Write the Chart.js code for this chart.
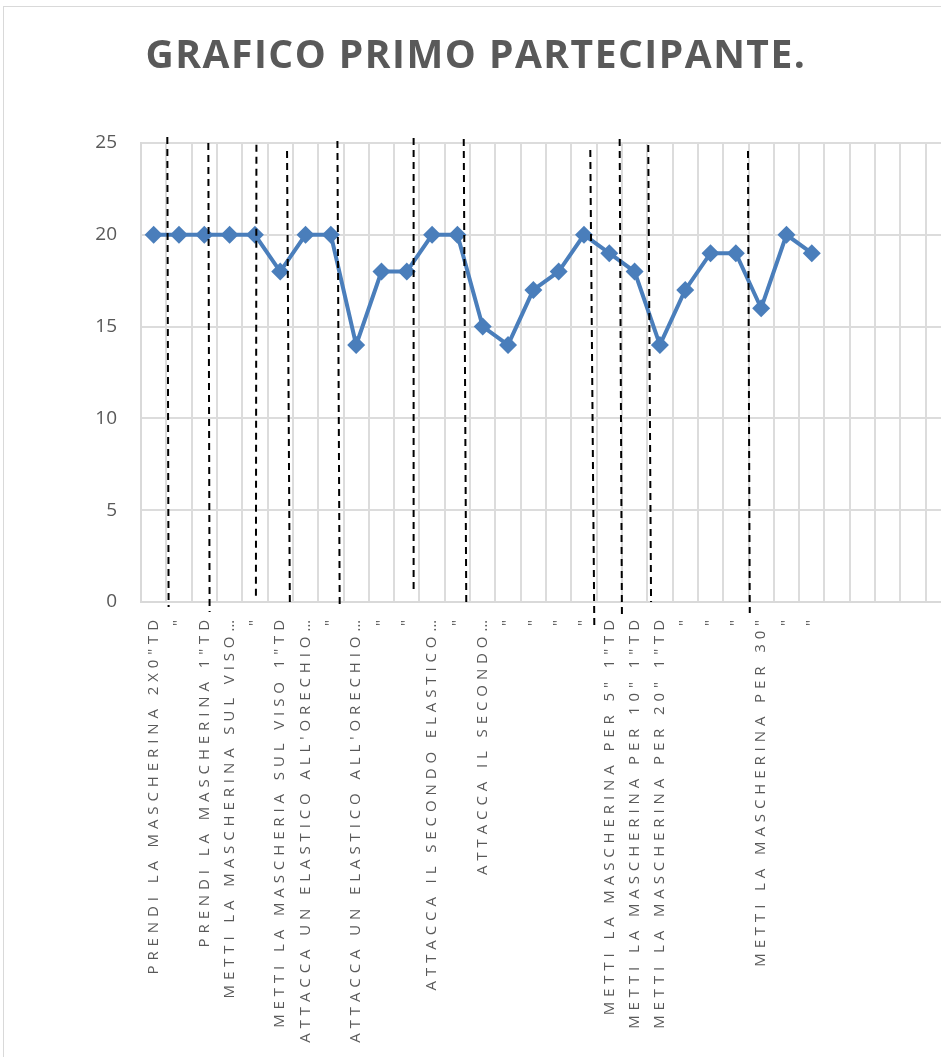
<!DOCTYPE html>
<html>
<head>
<meta charset="utf-8">
<script src="https://cdn.jsdelivr.net/npm/chart.js@4"></script>
<style>
  html, body { margin: 0; padding: 0; background: #fff; overflow: hidden; }
  canvas { display: block; }
</style>
</head>
<body>
<canvas id="chart" width="960" height="1057"></canvas>
<script>
const title = "GRAFICO PRIMO PARTECIPANTE.";

const categories = [
  'PRENDI LA MASCHERINA 2X0"TD', '"', 'PRENDI LA MASCHERINA 1"TD',
  'METTI LA MASCHERINA SUL VISO…', '"', 'METTI LA MASCHERIA SUL VISO 1"TD',
  "ATTACCA UN ELASTICO ALL'ORECHIO…", '"', "ATTACCA UN ELASTICO ALL'ORECHIO…",
  '"', '"', 'ATTACCA IL SECONDO ELASTICO…', '"', 'ATTACCA IL SECONDO…',
  '"', '"', '"', '"',
  'METTI LA MASCHERINA PER 5" 1"TD', 'METTI LA MASCHERINA PER 10" 1"TD',
  'METTI LA MASCHERINA PER 20" 1"TD', '"', '"', '"',
  'METTI LA MASCHERINA PER 30"', '"', '"',
  '', '', '', '', ''
];

const values = [20, 20, 20, 20, 20, 18, 20, 20, 14, 18, 18, 20, 20, 15, 14,
                17, 18, 20, 19, 18, 14, 17, 19, 19, 16, 20, 19];

const yTicks = [0, 5, 10, 15, 20, 25];

// dashed separators drawn by hand on the original, in axis units
// (category index at top / bottom, value at top / bottom)
const sepXTop    = [0.54, 2.16, 4.06, 5.27, 7.26, 10.27, 12.25, 17.25, 18.41, 19.54, 23.48];
const sepXBottom = [0.59, 2.21, 4.04, 5.38, 7.35, 10.27, 12.35, 17.41, 18.50, 19.65, 23.55];
const sepYTop    = [25.33, 25.0, 24.9, 24.56, 25.11, 25.27, 25.22, 24.62, 25.22, 24.89, 24.56];
const sepYBottom = [-0.27, -0.54, 0.1, 0, -0.38, 0.49, -0.05, -1.53, -0.93, 0, -0.6];

const textGray = "#595959";
const blue = "#4a7ebb";

const decor = {
  id: "decor",
  beforeDraw(chart) {
    const ctx = chart.ctx;
    ctx.save();
    ctx.strokeStyle = "#d9d9d9";
    ctx.lineWidth = 1;
    ctx.strokeRect(3.5, 6.5, chart.width, chart.height);
    ctx.restore();
  },
  afterDatasetsDraw(chart) {
    const ctx = chart.ctx;
    const x = chart.scales.x, y = chart.scales.y;
    ctx.save();
    ctx.strokeStyle = "#000";
    ctx.lineWidth = 2;
    ctx.setLineDash([7, 5]);
    for (let i = 0; i < sepXTop.length; i++) {
      ctx.beginPath();
      ctx.moveTo(x.getPixelForValue(sepXTop[i]), y.getPixelForValue(sepYTop[i]));
      ctx.lineTo(x.getPixelForValue(sepXBottom[i]), y.getPixelForValue(sepYBottom[i]));
      ctx.stroke();
    }
    ctx.restore();
  },
  afterDraw(chart) {
    const ctx = chart.ctx;
    const x = chart.scales.x;
    const area = chart.chartArea;
    ctx.save();
    // category labels, rotated, with Excel-like letter spacing
    ctx.fillStyle = textGray;
    ctx.font = "15px 'Open Sans'";
    ctx.letterSpacing = "4.9px";
    ctx.textAlign = "right";
    ctx.textBaseline = "middle";
    categories.forEach((lab, i) => {
      if (!lab) return;
      ctx.save();
      ctx.translate(x.getPixelForValue(i), area.bottom + 13);
      ctx.rotate(-Math.PI / 2);
      ctx.fillText(lab, 0, 0);
      ctx.restore();
    });
    // title
    ctx.font = "bold 39px 'Open Sans'";
    ctx.letterSpacing = "1.5px";
    ctx.textAlign = "center";
    ctx.textBaseline = "alphabetic";
    ctx.fillText(title, 476, 68);
    ctx.restore();
  }
};

new Chart(document.getElementById("chart"), {
  type: "line",
  data: {
    labels: categories,
    datasets: [{
      data: values,
      borderColor: blue,
      backgroundColor: blue,
      borderWidth: 4,
      tension: 0,
      pointStyle: "rectRot",
      pointRadius: 9,
      pointBorderWidth: 0,
      pointBackgroundColor: blue
    }]
  },
  options: {
    responsive: false,
    animation: false,
    layout: { padding: { top: 143, left: 0, right: 8, bottom: 455 } },
    plugins: { legend: { display: false }, tooltip: { enabled: false } },
    scales: {
      x: {
        offset: true,
        grid: { offset: true, color: "#dcdcdc", lineWidth: 2, drawTicks: false },
        border: { color: "#d9d9d9", width: 2 },
        ticks: { display: false, autoSkip: false }
      },
      y: {
        min: 0,
        max: 25,
        afterBuildTicks: s => { s.ticks = yTicks.map(v => ({ value: v })); },
        afterFit: s => { s.width = 141; },
        grid: { color: "#dcdcdc", lineWidth: 2, drawTicks: false },
        border: { color: "#d9d9d9", width: 2 },
        ticks: { color: textGray, font: { family: "'Open Sans'", size: 19 }, padding: 24 }
      }
    }
  },
  plugins: [decor]
});
</script>
</body>
</html>
